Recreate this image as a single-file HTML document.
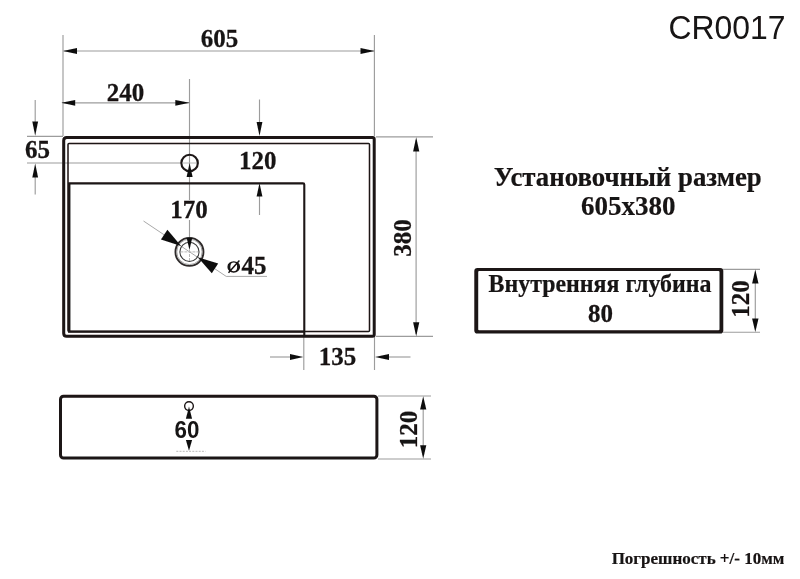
<!DOCTYPE html>
<html><head><meta charset="utf-8">
<style>
html,body{margin:0;padding:0;background:#fff;}
body{width:800px;height:579px;overflow:hidden;font-family:"Liberation Serif",serif;}
svg{display:block;position:absolute;left:0;top:0;}
.t{font-family:"Liberation Serif",serif;font-weight:bold;fill:#161212;}
.s{font-family:"Liberation Sans",sans-serif;fill:#161212;}
.thin{stroke:#9c9c9c;stroke-width:1.15;fill:none;}
.ah{fill:#111;stroke:none;}
.thick{stroke:#1c1515;fill:none;}
</style></head><body>
<svg width="800" height="579" viewBox="0 0 800 579">
<defs><filter id="soft" x="0" y="0" width="800" height="579" filterUnits="userSpaceOnUse"><feGaussianBlur stdDeviation="0.45"/></filter></defs>
<rect width="800" height="579" fill="#fff"/>
<g filter="url(#soft)">

<!-- ===== thin extension / dimension lines ===== -->
<g class="thin">
  <!-- 605 -->
  <line x1="63" y1="35" x2="63" y2="136"/>
  <line x1="374.4" y1="35" x2="374.4" y2="136"/>
  <line x1="64" y1="51" x2="374" y2="51"/>
  <!-- 240 -->
  <line x1="62" y1="102.8" x2="189" y2="102.8"/>
  <line x1="189.5" y1="79" x2="189.5" y2="200"/>
  <line x1="189.5" y1="220" x2="189.5" y2="240"/>
  <!-- 65 -->
  <line x1="35.2" y1="100" x2="35.2" y2="125"/>
  <line x1="27" y1="136.4" x2="63" y2="136.4"/>
  <line x1="27" y1="163" x2="182" y2="163"/>
  <line x1="35.2" y1="175" x2="35.2" y2="194.5"/>
  <!-- 120 top -->
  <line x1="259.5" y1="99.5" x2="259.5" y2="125"/>
  <line x1="259.5" y1="194" x2="259.5" y2="215"/>
  <!-- 380 -->
  <line x1="376" y1="136.8" x2="433" y2="136.8"/>
  <line x1="376" y1="336.3" x2="433" y2="336.3"/>
  <line x1="416.1" y1="140" x2="416.1" y2="334"/>
  <!-- 135 -->
  <line x1="303.8" y1="337" x2="303.8" y2="370"/>
  <line x1="374.5" y1="337" x2="374.5" y2="370"/>
  <line x1="270" y1="357" x2="292" y2="357"/>
  <line x1="388" y1="357" x2="410.5" y2="357"/>
  <!-- side 120 -->
  <line x1="378" y1="396" x2="431" y2="396"/>
  <line x1="378" y1="459" x2="431" y2="459"/>
  <line x1="423.2" y1="400" x2="423.2" y2="455"/>
  <!-- box 120 -->
  <line x1="723" y1="269.4" x2="760" y2="269.4"/>
  <line x1="723" y1="332.2" x2="760" y2="332.2"/>
  <line x1="755.3" y1="274" x2="755.3" y2="328"/>
  <!-- diameter leader -->
  <polyline points="143.5,221 226.2,276.4 267,276.4" stroke="#a8a8a8" stroke-width="1"/>
</g>
<g stroke="#b8b8b8" stroke-width="1" fill="none">
  <line x1="180.4" y1="251.9" x2="198.5" y2="251.9" stroke-dasharray="3 1"/>
  <line x1="189.5" y1="250" x2="189.5" y2="261.2" stroke-dasharray="3 1"/>
  <line x1="183" y1="163" x2="197" y2="163"/>
  <line x1="176.3" y1="451.3" x2="205.5" y2="451.3" stroke-dasharray="2 1.2"/>
</g>

<!-- ===== thick outlines ===== -->
<path class="thick" stroke-width="3" d="M66.7 137.4 H372.4 Q374.2 137.4 374.2 139.2 V334.4 Q374.2 336.2 372.4 336.2 H66.7 Q63.7 336.2 63.7 333.2 V140.4 Q63.7 137.4 66.7 137.4 Z"/>
<rect class="thick" x="68" y="143.4" width="301.5" height="188.2" rx="1" stroke-width="1.5"/>
<path class="thick" d="M69.2 331.6 V183.4 H303 Q304.3 183.4 304.3 184.7 V336.2" stroke-width="2.1"/>
<line class="thick" x1="68" y1="331.6" x2="304" y2="331.6" stroke-width="2.4"/>
<line class="thick" x1="69.2" y1="183" x2="69.2" y2="331.6" stroke-width="2.1"/>

<!-- side view -->
<rect class="thick" x="60.5" y="396.2" width="316.4" height="61.9" rx="3" stroke-width="3"/>
<!-- text box -->
<path fill="#1c1515" fill-rule="evenodd" d="M477.4 267.9 H720.2 Q723.3 267.9 723.3 271 V330.4 Q723.3 333.5 720.2 333.5 H477.4 Q474.3 333.5 474.3 330.4 V271 Q474.3 267.9 477.4 267.9 Z M479.2 271.1 Q478.2 271.1 478.2 272.1 V329.3 Q478.2 330.3 479.2 330.3 H718.5 Q719.5 330.3 719.5 329.3 V272.1 Q719.5 271.1 718.5 271.1 Z"/>

<!-- tap hole -->
<circle cx="189.6" cy="163" r="8.25" class="thick" stroke-width="2.1"/>
<!-- drain -->
<circle cx="189.45" cy="251.9" r="14" fill="none" stroke="#2e2a2a" stroke-width="1.9"/>
<circle cx="189.45" cy="251.9" r="12.7" fill="none" stroke="#9a9a9a" stroke-width="0.9"/>
<circle cx="189.45" cy="251.9" r="9.6" fill="none" stroke="#3a3a3a" stroke-width="1.05"/>
<!-- side overflow hole -->
<circle cx="189" cy="406.1" r="4.35" class="thick" stroke-width="1.4"/>

<!-- ===== arrow heads ===== -->
<g class="ah">
  <!-- 605 -->
  <polygon points="62.9,51 77,48.1 77,53.9"/>
  <polygon points="374.6,51 360.5,48.1 360.5,53.9"/>
  <!-- 240 -->
  <polygon points="61.4,102.8 75.2,99.9 75.2,105.7"/>
  <polygon points="189.5,102.8 175.3,99.9 175.3,105.7"/>
  <!-- 65 -->
  <polygon points="35.2,135.8 32.3,121.5 38.1,121.5"/>
  <polygon points="35.2,163.5 32.3,177.5 38.1,177.5"/>
  <!-- 120 top -->
  <polygon points="259.5,136 256.6,122 262.4,122"/>
  <polygon points="259.5,183 256.6,196.5 262.4,196.5"/>
  <!-- 170 -->
  <polygon points="189.6,163 186.6,177 192.6,177"/>
  <polygon points="189.45,250 186.65,237.8 192.25,237.8"/>
  <!-- 380 -->
  <polygon points="416.2,137.3 413.1,151.5 419.3,151.5"/>
  <polygon points="416.2,336.2 413.1,322.3 419.3,322.3"/>
  <!-- 135 -->
  <polygon points="303.3,357 290,354.1 290,359.9"/>
  <polygon points="375,357 389,354.1 389,359.9"/>
  <!-- side 120 -->
  <polygon points="423.2,396.2 420.1,409.6 426.3,409.6"/>
  <polygon points="423.2,458.8 420.1,445.3 426.3,445.3"/>
  <!-- box 120 -->
  <polygon points="755.3,269.6 752.1,283.6 758.5,283.6"/>
  <polygon points="755.3,332 752.1,318.4 758.5,318.4"/>
  <!-- 60 -->
  <polygon points="189,406.4 185.9,418.8 192.1,418.8"/>
  <polygon points="189,450.7 185.9,440 192.1,440"/>
  <!-- diameter arrows -->
  <polygon points="181.1,246.1 167.4,229.75 160.95,239.45"/>
  <polygon points="197.8,257.3 218.2,263.5 211.8,273.3"/>
</g>

<!-- ===== dimension text ===== -->
<g class="t" font-size="25" text-anchor="middle" stroke="#161212" stroke-width="0.25">
  <text transform="translate(219.6,47.4) scale(1,1.04)">605</text>
  <text transform="translate(125.4,100.7) scale(1,1.04)">240</text>
  <text transform="translate(37.4,157.6) scale(1,1.04)">65</text>
  <text transform="translate(257.8,168.5) scale(1,1.04)">120</text>
  <text transform="translate(189,218.3) scale(1,1.04)">170</text>
  <text transform="translate(337.45,365.3) scale(1,1.04)">135</text>
  <text transform="translate(254,274.1) scale(1,1.04)">45</text>
  <text transform="translate(410.8,238) rotate(-90) scale(1,1.04)">380</text>
  <text transform="translate(416.6,429.4) rotate(-90) scale(1,1.04)">120</text>
  <text transform="translate(748.6,299) rotate(-90) scale(1,1.04)">120</text>
  <text transform="translate(600.4,321.6) scale(1,1.04)">80</text>
</g>
<!-- diameter symbol -->
<path fill="#161212" fill-rule="evenodd" d="M227.4 266.9 a6.35 5.75 0 1 0 12.7 0 a6.35 5.75 0 1 0 -12.7 0 Z M230.35 266.9 a3.4 4.35 0 1 1 6.8 0 a3.4 4.35 0 1 1 -6.8 0 Z"/>
<line x1="228.5" y1="272.7" x2="239.4" y2="260.4" stroke="#161212" stroke-width="1.45"/>

<text class="s" font-weight="bold" font-size="22.4" text-anchor="middle" transform="translate(187,438.1) scale(1,1.1)">60</text>
<text class="s" font-size="31.9" text-anchor="middle" transform="translate(727,39.3) scale(1,1.05)">CR0017</text>

<g class="t" text-anchor="middle" stroke="#161212" stroke-width="0.2">
  <text transform="translate(627.7,185.8) scale(1,1.05)" font-size="26.8">Установочный размер</text>
  <text transform="translate(628.2,215) scale(1,1.04)" font-size="27">605х380</text>
  <text transform="translate(600,291.8) scale(1,1.04)" font-size="23.9">Внутренняя глубина</text>
  <text transform="translate(698,563.6) scale(1,1.0)" font-size="17">Погрешность +/- 10мм</text>
</g>
</g>
</svg>
</body></html>
